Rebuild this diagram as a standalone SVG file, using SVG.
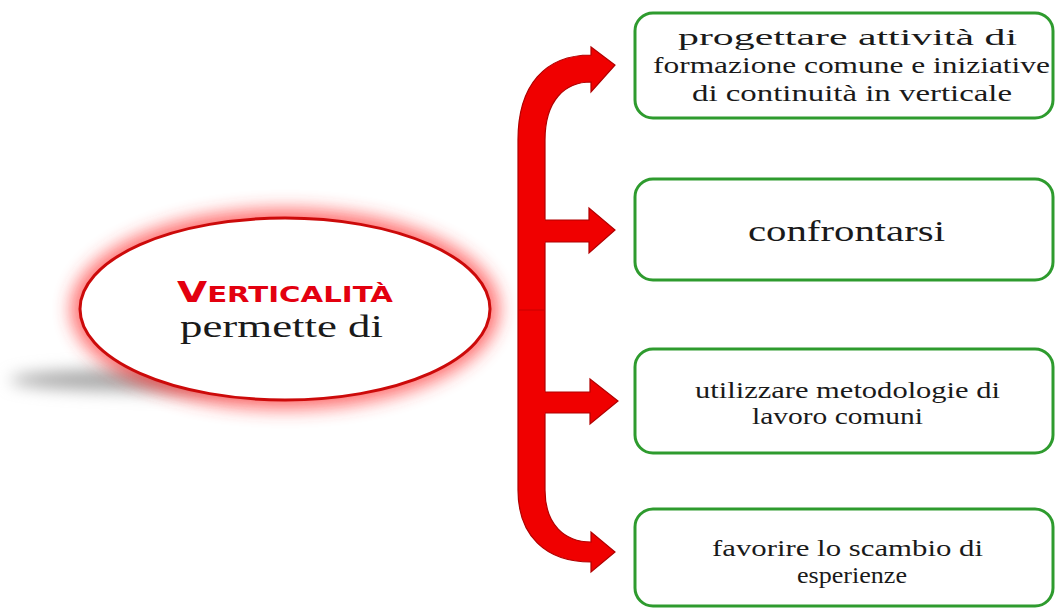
<svg xmlns="http://www.w3.org/2000/svg" width="1055" height="609" viewBox="0 0 1055 609">
  <defs>
    <filter id="glow" x="-30%" y="-40%" width="160%" height="180%">
      <feGaussianBlur stdDeviation="9"/>
    </filter>
    <filter id="shadow" x="-30%" y="-150%" width="160%" height="400%">
      <feGaussianBlur stdDeviation="8"/>
    </filter>
    <style>
      .box { fill: #ffffff; stroke: #2e9b2e; stroke-width: 3; }
      .txt { fill: #1a1a1a; }
      .arrow { fill: #f00000; stroke: #b00000; stroke-width: 1.2; stroke-linejoin: miter; }
    </style>
  </defs>
  <rect width="1055" height="609" fill="#ffffff"/>

  <g id="center-node">
    <ellipse cx="185" cy="380" rx="175" ry="12" fill="#a8a8a8" filter="url(#shadow)"/>
    <ellipse cx="285" cy="309" rx="214" ry="100" fill="#ff3030" opacity="0.7" filter="url(#glow)"/>
    <ellipse cx="285" cy="309" rx="205" ry="91" fill="#ffffff" stroke="#cc0a0a" stroke-width="3"/>
    <text x="177" y="302" textLength="216" lengthAdjust="spacingAndGlyphs" font-family="'DejaVu Sans', 'Liberation Sans', sans-serif" font-weight="bold" fill="#e3000f"><tspan font-size="28">V</tspan><tspan font-size="21">ERTICALITÀ</tspan></text>
    <text x="180" y="337" textLength="203" lengthAdjust="spacingAndGlyphs" class="txt" font-family="'Liberation Serif', serif" font-size="31">permette di</text>
  </g>

  <g id="connectors">
    <path class="arrow" d="M615,65 L591,92 L591,82 C565,82 545,100 545,140 L545,490 C545,525 565,542 591,542 L591,532 L615,552 L591,572 L591,562 C545,562 518,535 518,490 L518,140 C518,85 545,55 591,55 L591,47 Z"/>
    <path class="arrow" d="M544,220 L589,220 L589,208 L615,230 L589,253 L589,242 L544,242"/>
    <path class="arrow" d="M544,392 L590,392 L590,379 L618,401 L590,424 L590,413 L544,413"/>
    <rect x="519" y="219" width="26" height="24" fill="#f00000"/>
    <rect x="519" y="391" width="26" height="23" fill="#f00000"/>
    <line x1="519" y1="310" x2="544" y2="310" stroke="#b00000" stroke-width="1" opacity="0.6"/>
  </g>

  <g id="node-1" font-family="'Liberation Serif', serif">
    <rect class="box" x="635" y="13" width="418" height="105" rx="18"/>
    <text class="txt" font-size="23" x="678" y="45" textLength="339" lengthAdjust="spacingAndGlyphs">progettare attività di</text>
    <text class="txt" font-size="23" x="653" y="73" textLength="397" lengthAdjust="spacingAndGlyphs">formazione comune e iniziative</text>
    <text class="txt" font-size="23" x="692" y="101" textLength="320" lengthAdjust="spacingAndGlyphs">di continuità in verticale</text>
  </g>

  <g id="node-2" font-family="'Liberation Serif', serif">
    <rect class="box" x="635" y="179" width="418" height="101" rx="18"/>
    <text class="txt" font-size="30" x="748" y="241" textLength="197" lengthAdjust="spacingAndGlyphs">confrontarsi</text>
  </g>

  <g id="node-3" font-family="'Liberation Serif', serif">
    <rect class="box" x="635" y="349" width="418" height="104" rx="18"/>
    <text class="txt" font-size="23" x="695" y="398" textLength="305" lengthAdjust="spacingAndGlyphs">utilizzare metodologie di</text>
    <text class="txt" font-size="23" x="752" y="424" textLength="171" lengthAdjust="spacingAndGlyphs">lavoro comuni</text>
  </g>

  <g id="node-4" font-family="'Liberation Serif', serif">
    <rect class="box" x="635" y="509" width="418" height="97" rx="18"/>
    <text class="txt" font-size="23" x="712" y="556" textLength="271" lengthAdjust="spacingAndGlyphs">favorire lo scambio di</text>
    <text class="txt" font-size="23" x="797" y="583" textLength="110" lengthAdjust="spacingAndGlyphs">esperienze</text>
  </g>
</svg>
